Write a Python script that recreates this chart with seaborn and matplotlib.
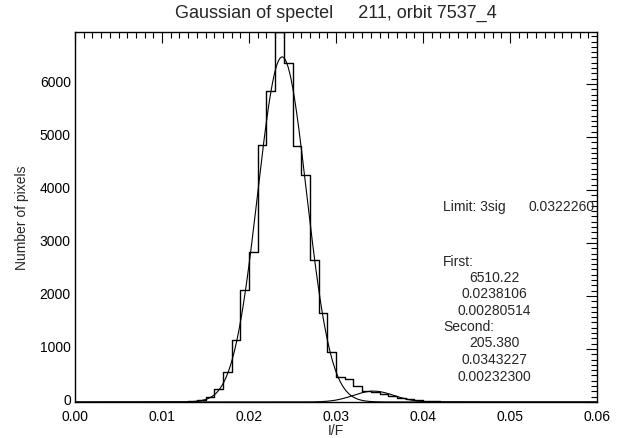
import numpy as np
import matplotlib
matplotlib.use("Agg")
import matplotlib.pyplot as plt
import matplotlib.transforms as mtransforms
from matplotlib.ticker import MultipleLocator, FormatStrFormatter
import seaborn as sns

# Histograma de I/F (centros de bin, ancho 0.001)
bin_centers = [0.0105, 0.0115, 0.0125, 0.0135, 0.0145, 0.0155, 0.0165, 0.0175,
               0.0185, 0.0195, 0.0205, 0.0215, 0.0225, 0.0235, 0.0245, 0.0255,
               0.0265, 0.0275, 0.0285, 0.0295, 0.0305, 0.0315, 0.0325, 0.0335,
               0.0345, 0.0355, 0.0365, 0.0375, 0.0385, 0.0395, 0.0405, 0.0415,
               0.0425, 0.0435, 0.0445, 0.0455, 0.0465]
pixel_counts = [0, 0, 5, 10, 35, 100, 245, 560,
                1170, 2110, 2825, 4840, 5870, 6980, 6390, 4820,
                4280, 2685, 1675, 940, 480, 440, 300, 200,
                190, 150, 110, 80, 55, 35, 20, 12,
                8, 5, 3, 2, 0]

# Parametros del ajuste gaussiano (amplitud, centro, sigma)
first_fit = [6510.22, 0.0238106, 0.00280514]
second_fit = [205.380, 0.0343227, 0.00232300]
limit_3sig = 0.0322260

titulo = "Gaussian of spectel     211, orbit 7537_4"

sns.set_style("white")
plt.rcParams["font.family"] = ["Liberation Sans", "DejaVu Sans"]

fig = plt.figure(figsize=(6.25, 4.39), dpi=100)
ax = fig.add_axes([75 / 625, 1 - 403 / 439, 522 / 625, 370 / 439])

# Histograma en escalones
sns.lineplot(x=bin_centers, y=pixel_counts, drawstyle="steps-mid",
             color="black", linewidth=1.0, estimator=None, ax=ax)

# Curvas de ajuste
xs = np.linspace(0.0, 0.06, 1200)
for amp, mu, sig in (first_fit, second_fit):
    g = amp * np.exp(-0.5 * ((xs - mu) / sig) ** 2)
    sns.lineplot(x=xs, y=g, color="black", linewidth=0.8, estimator=None, ax=ax)

ax.set_xlim(0.0, 0.06)
ax.set_ylim(0, max(pixel_counts))
ax.xaxis.set_major_locator(MultipleLocator(0.01))
ax.xaxis.set_minor_locator(MultipleLocator(0.001))
ax.yaxis.set_major_locator(MultipleLocator(1000))
ax.yaxis.set_minor_locator(MultipleLocator(100))
ax.xaxis.set_major_formatter(FormatStrFormatter("%.2f"))
ax.tick_params(which="both", direction="in", top=True, right=True,
               width=0.8, labelsize=10, colors="black")
ax.tick_params(which="major", length=8)
ax.tick_params(which="minor", length=4)
ax.tick_params(axis="x", which="major", pad=5)
ax.tick_params(axis="y", which="major", pad=3)
for s in ax.spines.values():
    s.set_linewidth(1.0)
    s.set_color("black")

# Etiquetas del eje y un poco por encima de la marca, como en IDL
subir = mtransforms.ScaledTranslation(0, 3 / 100, fig.dpi_scale_trans)
for lbl in ax.yaxis.get_majorticklabels():
    lbl.set_transform(lbl.get_transform() + subir)

ax.set_title(titulo, fontsize=13, pad=11)
ax.set_xlabel("I/F", fontsize=10, labelpad=0)
ax.set_ylabel("Number of pixels", fontsize=10, labelpad=8)

# Textos con los parametros
kw = dict(fontsize=10, va="center")
ax.text(0.0423, 3704, "Limit: 3sig", ha="left", **kw)
ax.text(0.0597, 3704, f"{limit_3sig:.7f}", ha="right", **kw)
ax.text(0.0423, 2666, "First:", ha="left", **kw)
ax.text(0.0482, 2353, f"{first_fit[0]:.2f}", ha="center", **kw)
ax.text(0.0482, 2051, f"{first_fit[1]:.7f}", ha="center", **kw)
ax.text(0.0482, 1742, f"{first_fit[2]:.8f}", ha="center", **kw)
ax.text(0.0423, 1440, "Second:", ha="left", **kw)
ax.text(0.0482, 1126, f"{second_fit[0]:.3f}", ha="center", **kw)
ax.text(0.0482, 811, f"{second_fit[1]:.7f}", ha="center", **kw)
ax.text(0.0482, 496, f"{second_fit[2]:.8f}", ha="center", **kw)

fig.savefig("out.png", dpi=100)
